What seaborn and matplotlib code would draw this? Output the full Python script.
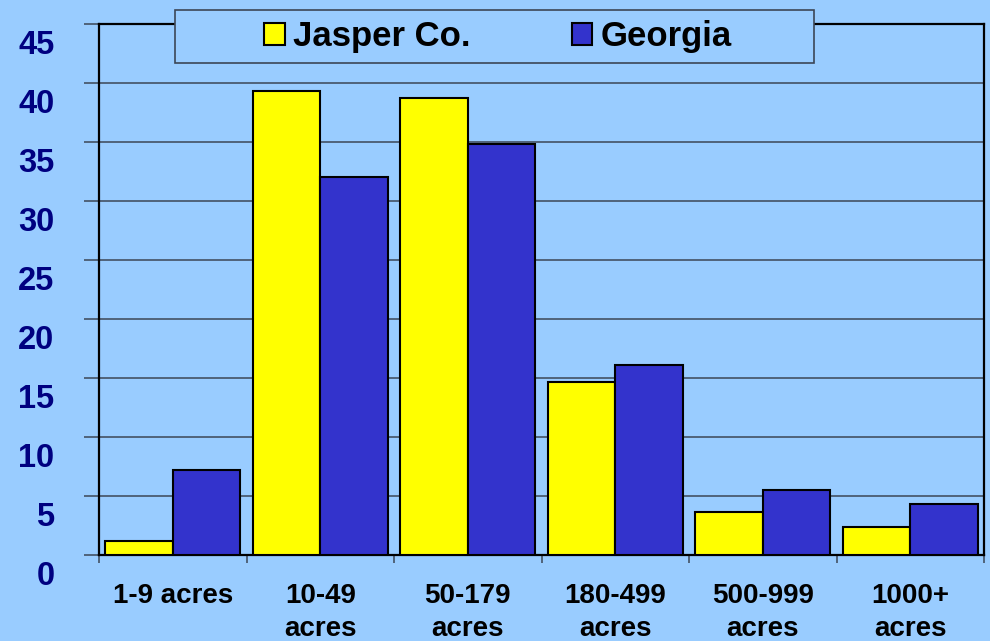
import matplotlib
matplotlib.use('Agg')

import numpy as np
import pandas as pd
import matplotlib.pyplot as plt
from matplotlib.patches import Rectangle
from matplotlib.transforms import ScaledTranslation
import seaborn as sns

# ---------------- DATA ----------------
categories = ["1-9 acres", "10-49\nacres", "50-179\nacres", "180-499\nacres",
              "500-999\nacres", "1000+\nacres"]
jasper = [1.2, 39.3, 38.7, 14.7, 3.6, 2.4]
georgia = [7.2, 32.0, 34.8, 16.1, 5.5, 4.3]
series_names = ["Jasper Co.", "Georgia"]
y_ticks = list(range(0, 50, 5))
# --------------------------------------

BG = "#99CCFF"
YELLOW = "#FFFF00"
BLUE = "#3333CC"
GRID = "#3c4656"

df = pd.DataFrame({
    "size": categories * 2,
    "pct": jasper + georgia,
    "region": [series_names[0]] * len(categories) + [series_names[1]] * len(categories),
})

sns.set_style("white")
plt.rcParams['font.family'] = ['Liberation Sans', 'DejaVu Sans']
plt.rcParams['font.weight'] = 'bold'
plt.rcParams['text.color'] = 'black'

fig = plt.figure(figsize=(9.9, 6.41), dpi=100)
fig.patch.set_facecolor(BG)
ax = fig.add_axes([0.1, 0.1342, 0.894, 0.8284])
ax.set_facecolor(BG)

sns.barplot(data=df, x="size", y="pct", hue="region", order=categories,
            palette=[YELLOW, BLUE], width=0.915, saturation=1,
            edgecolor="black", linewidth=1.5, ax=ax, zorder=3)

ax.set_xlim(-0.5, 5.5)
ax.set_ylim(0, 45)
ax.set_xlabel("")
ax.set_ylabel("")

# y axis: gridlines + ticks, labels sitting below the lines
ax.set_yticks(y_ticks)
ax.yaxis.grid(True, color=GRID, linewidth=1.1, zorder=0)
ax.set_axisbelow(True)
ax.tick_params(axis='y', left=True, direction='out', length=11, width=1.1,
               color=GRID, pad=21, labelsize=23.5, labelcolor="#000080")
offset = ScaledTranslation(0, -0.18, fig.dpi_scale_trans)
for lab in ax.get_yticklabels():
    lab.set_fontweight('bold')
    lab.set_transform(lab.get_transform() + offset)

# x axis: labels at centres, ticks between groups
ax.tick_params(axis='x', which='major', bottom=True, length=0, pad=20,
               labelsize=20, labelcolor="black")
for lab in ax.get_xticklabels():
    lab.set_fontweight('bold')
    lab.set_linespacing(1.38)
ax.set_xticks(np.arange(-0.5, 6, 1), minor=True)
ax.tick_params(axis='x', which='minor', bottom=True, direction='out',
               length=6, width=1.1, color=GRID)

for side in ["left", "right", "top", "bottom"]:
    ax.spines[side].set_visible(True)
    ax.spines[side].set_color("black")
    ax.spines[side].set_linewidth(1.6)

# legend box drawn over the top spine
box = Rectangle((175 / 990, 1 - 63 / 641), (814 - 175) / 990, 53 / 641,
                transform=fig.transFigure, facecolor=BG, edgecolor="#3c4656",
                linewidth=1.2, zorder=5)
fig.patches.append(box)

handles, labels = ax.get_legend_handles_labels()
if ax.legend_:
    ax.legend_.remove()
leg = fig.legend(handles, labels, loc="center", ncol=2,
                 bbox_to_anchor=(0.503, 1 - 36.5 / 641),
                 bbox_transform=fig.transFigure, frameon=False,
                 prop={'size': 25, 'weight': 'bold'},
                 handlelength=0.6, handleheight=0.6, handletextpad=0.25,
                 columnspacing=2.9, borderpad=0)
for t in leg.get_texts():
    t.set_color("black")
leg.set_zorder(6)

plt.savefig("out.png", dpi=100, facecolor=BG)
plt.close()
